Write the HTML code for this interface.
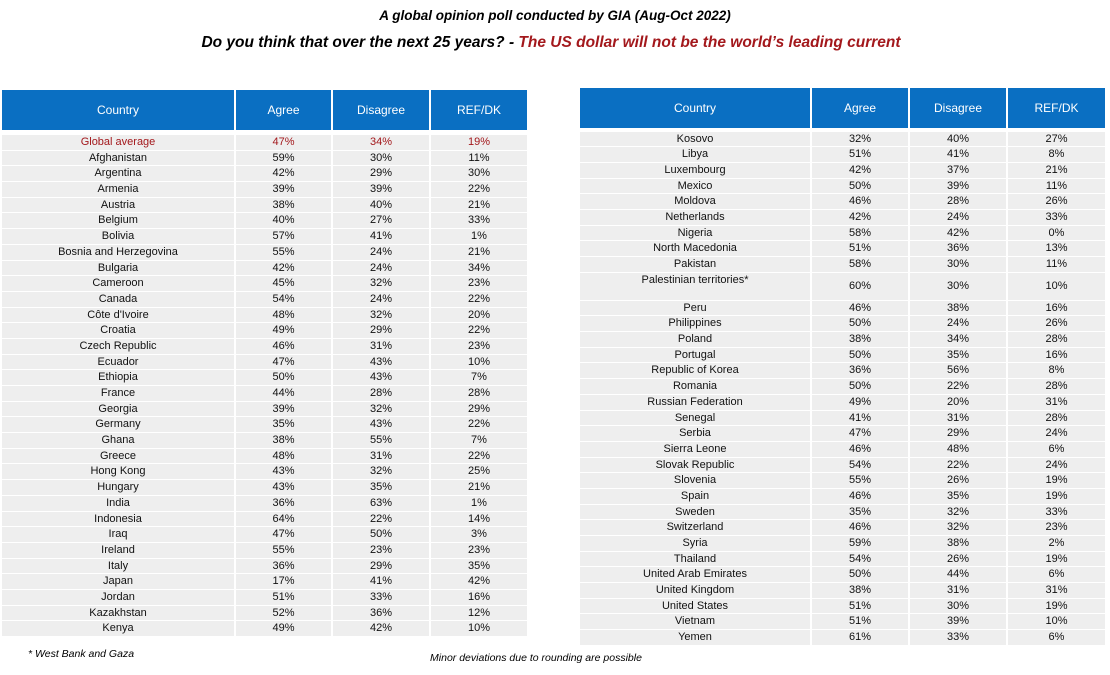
<!DOCTYPE html>
<html><head><meta charset="utf-8"><style>
body{margin:0;width:1110px;height:675px;background:#fff;position:relative;font-family:"Liberation Sans",sans-serif;overflow:hidden}
.t1{position:absolute;top:8px;left:0;width:1110px;text-align:center;font-weight:bold;font-style:italic;font-size:13.5px}
.t2{position:absolute;top:34px;left:0;width:1102px;text-align:center;font-weight:bold;font-style:italic;font-size:15.5px}
.t2 span{color:#a3181c}
.tb{position:absolute}
.h{display:flex;height:40px;margin-bottom:2px}
.h div{background:#0a6fc2;color:#fff;font-size:12px;display:flex;align-items:center;justify-content:center;margin-right:2px}
#L .h{margin-bottom:5px}
#R .h{margin-bottom:3.5px}
.r{display:flex;height:14.7px;margin-bottom:1px}
.r div{background:#eeeeee;font-size:11px;line-height:14.7px;text-align:center;margin-right:2px;color:#111}
.g div{color:#a3181c}
#L{left:2px;top:90px}
#R{left:580px;top:88px}
#L .c1{width:232px}#L .c2{width:95px}#L .c3,#L .c4{width:96px}
#R .c1{width:230px}#R .c2,#R .c3{width:96px}#R .c4{width:97px}
.tall{height:27px}
.tall div{line-height:27px}
.tall .c1{line-height:14px}
.f1{position:absolute;left:28px;top:648px;font-size:10.5px;font-style:italic}
.f2{position:absolute;left:0;width:1072px;text-align:center;top:652px;font-size:10.5px;font-style:italic}
</style></head><body>
<div class="t1">A global opinion poll conducted by GIA (Aug-Oct 2022)</div>
<div class="t2">Do you think that over the next 25 years? - <span>The US dollar will not be the world’s leading current</span></div>
<div class="tb" id="L">
<div class="h"><div class="c1">Country</div><div class="c2">Agree</div><div class="c3">Disagree</div><div class="c4">REF/DK</div></div>
<div class="r g"><div class="c1">Global average</div><div class="c2">47%</div><div class="c3">34%</div><div class="c4">19%</div></div>
<div class="r"><div class="c1">Afghanistan</div><div class="c2">59%</div><div class="c3">30%</div><div class="c4">11%</div></div>
<div class="r"><div class="c1">Argentina</div><div class="c2">42%</div><div class="c3">29%</div><div class="c4">30%</div></div>
<div class="r"><div class="c1">Armenia</div><div class="c2">39%</div><div class="c3">39%</div><div class="c4">22%</div></div>
<div class="r"><div class="c1">Austria</div><div class="c2">38%</div><div class="c3">40%</div><div class="c4">21%</div></div>
<div class="r"><div class="c1">Belgium</div><div class="c2">40%</div><div class="c3">27%</div><div class="c4">33%</div></div>
<div class="r"><div class="c1">Bolivia</div><div class="c2">57%</div><div class="c3">41%</div><div class="c4">1%</div></div>
<div class="r"><div class="c1">Bosnia and Herzegovina</div><div class="c2">55%</div><div class="c3">24%</div><div class="c4">21%</div></div>
<div class="r"><div class="c1">Bulgaria</div><div class="c2">42%</div><div class="c3">24%</div><div class="c4">34%</div></div>
<div class="r"><div class="c1">Cameroon</div><div class="c2">45%</div><div class="c3">32%</div><div class="c4">23%</div></div>
<div class="r"><div class="c1">Canada</div><div class="c2">54%</div><div class="c3">24%</div><div class="c4">22%</div></div>
<div class="r"><div class="c1">Côte d'Ivoire</div><div class="c2">48%</div><div class="c3">32%</div><div class="c4">20%</div></div>
<div class="r"><div class="c1">Croatia</div><div class="c2">49%</div><div class="c3">29%</div><div class="c4">22%</div></div>
<div class="r"><div class="c1">Czech Republic</div><div class="c2">46%</div><div class="c3">31%</div><div class="c4">23%</div></div>
<div class="r"><div class="c1">Ecuador</div><div class="c2">47%</div><div class="c3">43%</div><div class="c4">10%</div></div>
<div class="r"><div class="c1">Ethiopia</div><div class="c2">50%</div><div class="c3">43%</div><div class="c4">7%</div></div>
<div class="r"><div class="c1">France</div><div class="c2">44%</div><div class="c3">28%</div><div class="c4">28%</div></div>
<div class="r"><div class="c1">Georgia</div><div class="c2">39%</div><div class="c3">32%</div><div class="c4">29%</div></div>
<div class="r"><div class="c1">Germany</div><div class="c2">35%</div><div class="c3">43%</div><div class="c4">22%</div></div>
<div class="r"><div class="c1">Ghana</div><div class="c2">38%</div><div class="c3">55%</div><div class="c4">7%</div></div>
<div class="r"><div class="c1">Greece</div><div class="c2">48%</div><div class="c3">31%</div><div class="c4">22%</div></div>
<div class="r"><div class="c1">Hong Kong</div><div class="c2">43%</div><div class="c3">32%</div><div class="c4">25%</div></div>
<div class="r"><div class="c1">Hungary</div><div class="c2">43%</div><div class="c3">35%</div><div class="c4">21%</div></div>
<div class="r"><div class="c1">India</div><div class="c2">36%</div><div class="c3">63%</div><div class="c4">1%</div></div>
<div class="r"><div class="c1">Indonesia</div><div class="c2">64%</div><div class="c3">22%</div><div class="c4">14%</div></div>
<div class="r"><div class="c1">Iraq</div><div class="c2">47%</div><div class="c3">50%</div><div class="c4">3%</div></div>
<div class="r"><div class="c1">Ireland</div><div class="c2">55%</div><div class="c3">23%</div><div class="c4">23%</div></div>
<div class="r"><div class="c1">Italy</div><div class="c2">36%</div><div class="c3">29%</div><div class="c4">35%</div></div>
<div class="r"><div class="c1">Japan</div><div class="c2">17%</div><div class="c3">41%</div><div class="c4">42%</div></div>
<div class="r"><div class="c1">Jordan</div><div class="c2">51%</div><div class="c3">33%</div><div class="c4">16%</div></div>
<div class="r"><div class="c1">Kazakhstan</div><div class="c2">52%</div><div class="c3">36%</div><div class="c4">12%</div></div>
<div class="r"><div class="c1">Kenya</div><div class="c2">49%</div><div class="c3">42%</div><div class="c4">10%</div></div>
</div>
<div class="tb" id="R">
<div class="h"><div class="c1">Country</div><div class="c2">Agree</div><div class="c3">Disagree</div><div class="c4">REF/DK</div></div>
<div class="r"><div class="c1">Kosovo</div><div class="c2">32%</div><div class="c3">40%</div><div class="c4">27%</div></div>
<div class="r"><div class="c1">Libya</div><div class="c2">51%</div><div class="c3">41%</div><div class="c4">8%</div></div>
<div class="r"><div class="c1">Luxembourg</div><div class="c2">42%</div><div class="c3">37%</div><div class="c4">21%</div></div>
<div class="r"><div class="c1">Mexico</div><div class="c2">50%</div><div class="c3">39%</div><div class="c4">11%</div></div>
<div class="r"><div class="c1">Moldova</div><div class="c2">46%</div><div class="c3">28%</div><div class="c4">26%</div></div>
<div class="r"><div class="c1">Netherlands</div><div class="c2">42%</div><div class="c3">24%</div><div class="c4">33%</div></div>
<div class="r"><div class="c1">Nigeria</div><div class="c2">58%</div><div class="c3">42%</div><div class="c4">0%</div></div>
<div class="r"><div class="c1">North Macedonia</div><div class="c2">51%</div><div class="c3">36%</div><div class="c4">13%</div></div>
<div class="r"><div class="c1">Pakistan</div><div class="c2">58%</div><div class="c3">30%</div><div class="c4">11%</div></div>
<div class="r tall"><div class="c1">Palestinian territories*</div><div class="c2">60%</div><div class="c3">30%</div><div class="c4">10%</div></div>
<div class="r"><div class="c1">Peru</div><div class="c2">46%</div><div class="c3">38%</div><div class="c4">16%</div></div>
<div class="r"><div class="c1">Philippines</div><div class="c2">50%</div><div class="c3">24%</div><div class="c4">26%</div></div>
<div class="r"><div class="c1">Poland</div><div class="c2">38%</div><div class="c3">34%</div><div class="c4">28%</div></div>
<div class="r"><div class="c1">Portugal</div><div class="c2">50%</div><div class="c3">35%</div><div class="c4">16%</div></div>
<div class="r"><div class="c1">Republic of Korea</div><div class="c2">36%</div><div class="c3">56%</div><div class="c4">8%</div></div>
<div class="r"><div class="c1">Romania</div><div class="c2">50%</div><div class="c3">22%</div><div class="c4">28%</div></div>
<div class="r"><div class="c1">Russian Federation</div><div class="c2">49%</div><div class="c3">20%</div><div class="c4">31%</div></div>
<div class="r"><div class="c1">Senegal</div><div class="c2">41%</div><div class="c3">31%</div><div class="c4">28%</div></div>
<div class="r"><div class="c1">Serbia</div><div class="c2">47%</div><div class="c3">29%</div><div class="c4">24%</div></div>
<div class="r"><div class="c1">Sierra Leone</div><div class="c2">46%</div><div class="c3">48%</div><div class="c4">6%</div></div>
<div class="r"><div class="c1">Slovak Republic</div><div class="c2">54%</div><div class="c3">22%</div><div class="c4">24%</div></div>
<div class="r"><div class="c1">Slovenia</div><div class="c2">55%</div><div class="c3">26%</div><div class="c4">19%</div></div>
<div class="r"><div class="c1">Spain</div><div class="c2">46%</div><div class="c3">35%</div><div class="c4">19%</div></div>
<div class="r"><div class="c1">Sweden</div><div class="c2">35%</div><div class="c3">32%</div><div class="c4">33%</div></div>
<div class="r"><div class="c1">Switzerland</div><div class="c2">46%</div><div class="c3">32%</div><div class="c4">23%</div></div>
<div class="r"><div class="c1">Syria</div><div class="c2">59%</div><div class="c3">38%</div><div class="c4">2%</div></div>
<div class="r"><div class="c1">Thailand</div><div class="c2">54%</div><div class="c3">26%</div><div class="c4">19%</div></div>
<div class="r"><div class="c1">United Arab Emirates</div><div class="c2">50%</div><div class="c3">44%</div><div class="c4">6%</div></div>
<div class="r"><div class="c1">United Kingdom</div><div class="c2">38%</div><div class="c3">31%</div><div class="c4">31%</div></div>
<div class="r"><div class="c1">United States</div><div class="c2">51%</div><div class="c3">30%</div><div class="c4">19%</div></div>
<div class="r"><div class="c1">Vietnam</div><div class="c2">51%</div><div class="c3">39%</div><div class="c4">10%</div></div>
<div class="r"><div class="c1">Yemen</div><div class="c2">61%</div><div class="c3">33%</div><div class="c4">6%</div></div>
</div>
<div class="f1">* West Bank and Gaza</div>
<div class="f2">Minor deviations due to rounding are possible</div>
</body></html>
